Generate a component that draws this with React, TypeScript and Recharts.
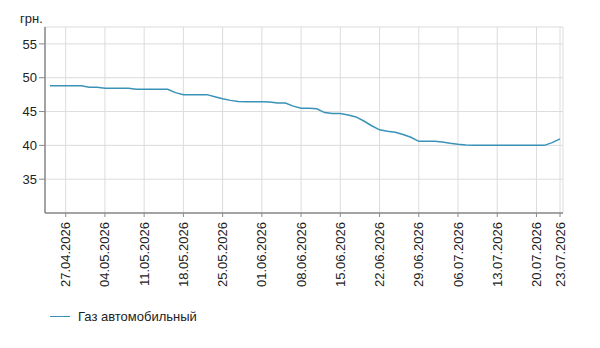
import { LineChart, Line, XAxis, YAxis, CartesianGrid } from 'recharts';

// business days from 23.04.2026 to 23.07.2026
const dates: string[] = [
  '23.04.2026', '24.04.2026',
  '27.04.2026', '28.04.2026', '29.04.2026', '30.04.2026', '01.05.2026',
  '04.05.2026', '05.05.2026', '06.05.2026', '07.05.2026', '08.05.2026',
  '11.05.2026', '12.05.2026', '13.05.2026', '14.05.2026', '15.05.2026',
  '18.05.2026', '19.05.2026', '20.05.2026', '21.05.2026', '22.05.2026',
  '25.05.2026', '26.05.2026', '27.05.2026', '28.05.2026', '29.05.2026',
  '01.06.2026', '02.06.2026', '03.06.2026', '04.06.2026', '05.06.2026',
  '08.06.2026', '09.06.2026', '10.06.2026', '11.06.2026', '12.06.2026',
  '15.06.2026', '16.06.2026', '17.06.2026', '18.06.2026', '19.06.2026',
  '22.06.2026', '23.06.2026', '24.06.2026', '25.06.2026', '26.06.2026',
  '29.06.2026', '30.06.2026', '01.07.2026', '02.07.2026', '03.07.2026',
  '06.07.2026', '07.07.2026', '08.07.2026', '09.07.2026', '10.07.2026',
  '13.07.2026', '14.07.2026', '15.07.2026', '16.07.2026', '17.07.2026',
  '20.07.2026', '21.07.2026', '22.07.2026', '23.07.2026',
];

const gasPrice: number[] = [
  48.8, 48.8,
  48.8, 48.8, 48.8, 48.6, 48.6,
  48.45, 48.45, 48.45, 48.45, 48.3,
  48.3, 48.3, 48.3, 48.3, 47.8,
  47.5, 47.5, 47.5, 47.5, 47.2,
  46.9, 46.65, 46.5, 46.45, 46.45,
  46.45, 46.4, 46.25, 46.25, 45.8,
  45.5, 45.5, 45.4, 44.85, 44.7,
  44.7, 44.5, 44.2, 43.6, 42.9,
  42.3, 42.1, 41.95, 41.6, 41.2,
  40.6, 40.6, 40.6, 40.5, 40.3,
  40.15, 40.05, 40.0, 40.0, 40.0,
  40.0, 40.0, 40.0, 40.0, 40.0,
  40.0, 40.0, 40.4, 40.95,
];

const xTicks: number[] = [2, 7, 12, 17, 22, 27, 32, 37, 42, 47, 52, 57, 62, 65];
const yTicks: number[] = [35, 40, 45, 50, 55];

const data = dates.map((d, i) => ({ i, date: d, gas: gasPrice[i] }));

const FONT = 'Arial, "Liberation Sans", sans-serif';
const LINE_COLOR = '#3a92b9';
const AXIS_COLOR = '#8a8a8a';

function DateTick({ x, y, payload }: any) {
  return (
    <g transform={`translate(${x},${y})`}>
      <text
        x={-3}
        y={0}
        dy="0.35em"
        transform="rotate(-90)"
        textAnchor="end"
        fontSize={13}
        fontFamily={FONT}
        fill="#222"
      >
        {dates[payload.value]}
      </text>
    </g>
  );
}

export default function App() {
  return (
    <div style={{ position: 'absolute', left: 0, top: 0, width: 600, height: 348, background: '#fff' }}>
      <div style={{ position: 'absolute', left: 20, top: 11, fontSize: 13, fontFamily: FONT, color: '#222' }}>
        грн.
      </div>
      <LineChart
        width={600}
        height={348}
        data={data}
        margin={{ top: 27, right: 37, left: 5, bottom: 60 }}
      >
        <CartesianGrid stroke="#dcdcdc" strokeWidth={1} />
        <XAxis
          dataKey="i"
          type="number"
          domain={[0, 65]}
          ticks={xTicks}
          interval={0}
          height={75}
          padding={{ left: 5, right: 3 }}
          tick={<DateTick />}
          tickSize={4}
          tickMargin={2}
          stroke={AXIS_COLOR}
          axisLine={{ stroke: AXIS_COLOR, strokeWidth: 1.5 }}
          tickLine={{ stroke: AXIS_COLOR }}
        />
        <YAxis
          type="number"
          domain={[30, 57.5]}
          ticks={yTicks}
          width={40}
          tickSize={6}
          tickMargin={2}
          allowDataOverflow
          tick={{ fontSize: 13, fontFamily: FONT, fill: '#222' }}
          axisLine={{ stroke: AXIS_COLOR, strokeWidth: 1.5 }}
          tickLine={{ stroke: AXIS_COLOR }}
        />
        <Line
          type="linear"
          dataKey="gas"
          stroke={LINE_COLOR}
          strokeWidth={1.5}
          dot={false}
          isAnimationActive={false}
        />
      </LineChart>
      <div
        style={{
          position: 'absolute',
          left: 50,
          top: 309,
          display: 'flex',
          alignItems: 'center',
          fontSize: 13,
          fontFamily: FONT,
          color: '#222',
        }}
      >
        <span style={{ display: 'inline-block', width: 20, height: 0, borderTop: `1.5px solid ${LINE_COLOR}`, marginRight: 8 }} />
        Газ автомобильный
      </div>
    </div>
  );
}
